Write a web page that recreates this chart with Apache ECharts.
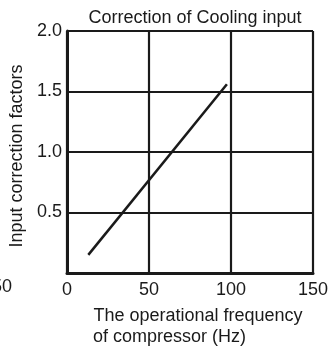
<!DOCTYPE html>
<html>
<head>
<meta charset="utf-8">
<script src="https://cdn.jsdelivr.net/npm/echarts@6/dist/echarts.min.js"></script>
<style>
  html, body { margin: 0; padding: 0; background: #fff; }
  #chart { width: 330px; height: 347px; }
</style>
</head>
<body>
<div id="chart"></div>
<script>
// Compressor frequency (Hz) and the input correction factor at each end of the curve
const frequencyHz = [13, 97.5];
const correctionFactor = [0.15, 1.56];
const xTicks = [0, 50, 100, 150];
const yTicks = [0, 0.5, 1.0, 1.5, 2.0];

const ink = '#1a1a1a';
const font = 'Liberation Sans, Arial, sans-serif';
const nameText = { fontFamily: font, fontSize: 18, color: ink, lineHeight: 21 };

const chart = echarts.init(document.getElementById('chart'), null, { renderer: 'canvas' });

chart.setOption({
  animation: false,
  backgroundColor: '#ffffff',
  title: {
    text: 'Correction of Cooling input',
    left: 190,
    textAlign: 'center',
    top: 4,
    textStyle: { fontFamily: font, fontSize: 18, fontWeight: 'normal', color: ink }
  },
  grid: { left: 67, right: 17, top: 31, bottom: 74, containLabel: false, outerBoundsMode: 'none' },
  xAxis: {
    type: 'value',
    min: xTicks[0],
    max: xTicks[xTicks.length - 1],
    interval: xTicks[1] - xTicks[0],
    // two lines sharing a left edge
    name: '{a|The operational frequency}\n{b|of compressor (Hz)}',
    nameLocation: 'middle',
    nameGap: 33,
    nameTextStyle: Object.assign({}, nameText, {
      padding: [0, 0, 0, 16],
      rich: {
        a: Object.assign({}, nameText),
        b: Object.assign({}, nameText, { padding: [0, 57, 0, 0] })
      }
    }),
    axisLine: { show: true, lineStyle: { color: ink, width: 3 } },
    axisTick: { show: false },
    axisLabel: { fontFamily: font, fontSize: 18, color: ink, margin: 8 },
    splitLine: { show: true, lineStyle: { color: ink, width: 2.2 } }
  },
  yAxis: {
    type: 'value',
    min: yTicks[0],
    max: yTicks[yTicks.length - 1],
    interval: yTicks[1] - yTicks[0],
    name: 'Input correction factors',
    nameLocation: 'middle',
    nameRotate: 90,
    nameGap: 35,
    nameTextStyle: { fontFamily: font, fontSize: 18, color: ink, padding: [0, 8, 0, 0] },
    axisLine: { show: true, lineStyle: { color: ink, width: 3 } },
    axisTick: { show: false },
    axisLabel: {
      fontFamily: font, fontSize: 18, color: ink, margin: 5,
      formatter: v => (v === 0 ? '' : v.toFixed(1))
    },
    splitLine: { show: true, lineStyle: { color: ink, width: 2.2 } }
  },
  graphic: [
    // edge of the neighbouring panel's tick label
    { type: 'text', left: -8, top: 278, style: { text: '50', font: '18px ' + font, fill: ink } }
  ],
  series: [{
    type: 'line',
    data: frequencyHz.map((f, i) => [f, correctionFactor[i]]),
    showSymbol: false,
    lineStyle: { color: ink, width: 2.5 },
    silent: true
  }]
});
</script>
</body>
</html>
